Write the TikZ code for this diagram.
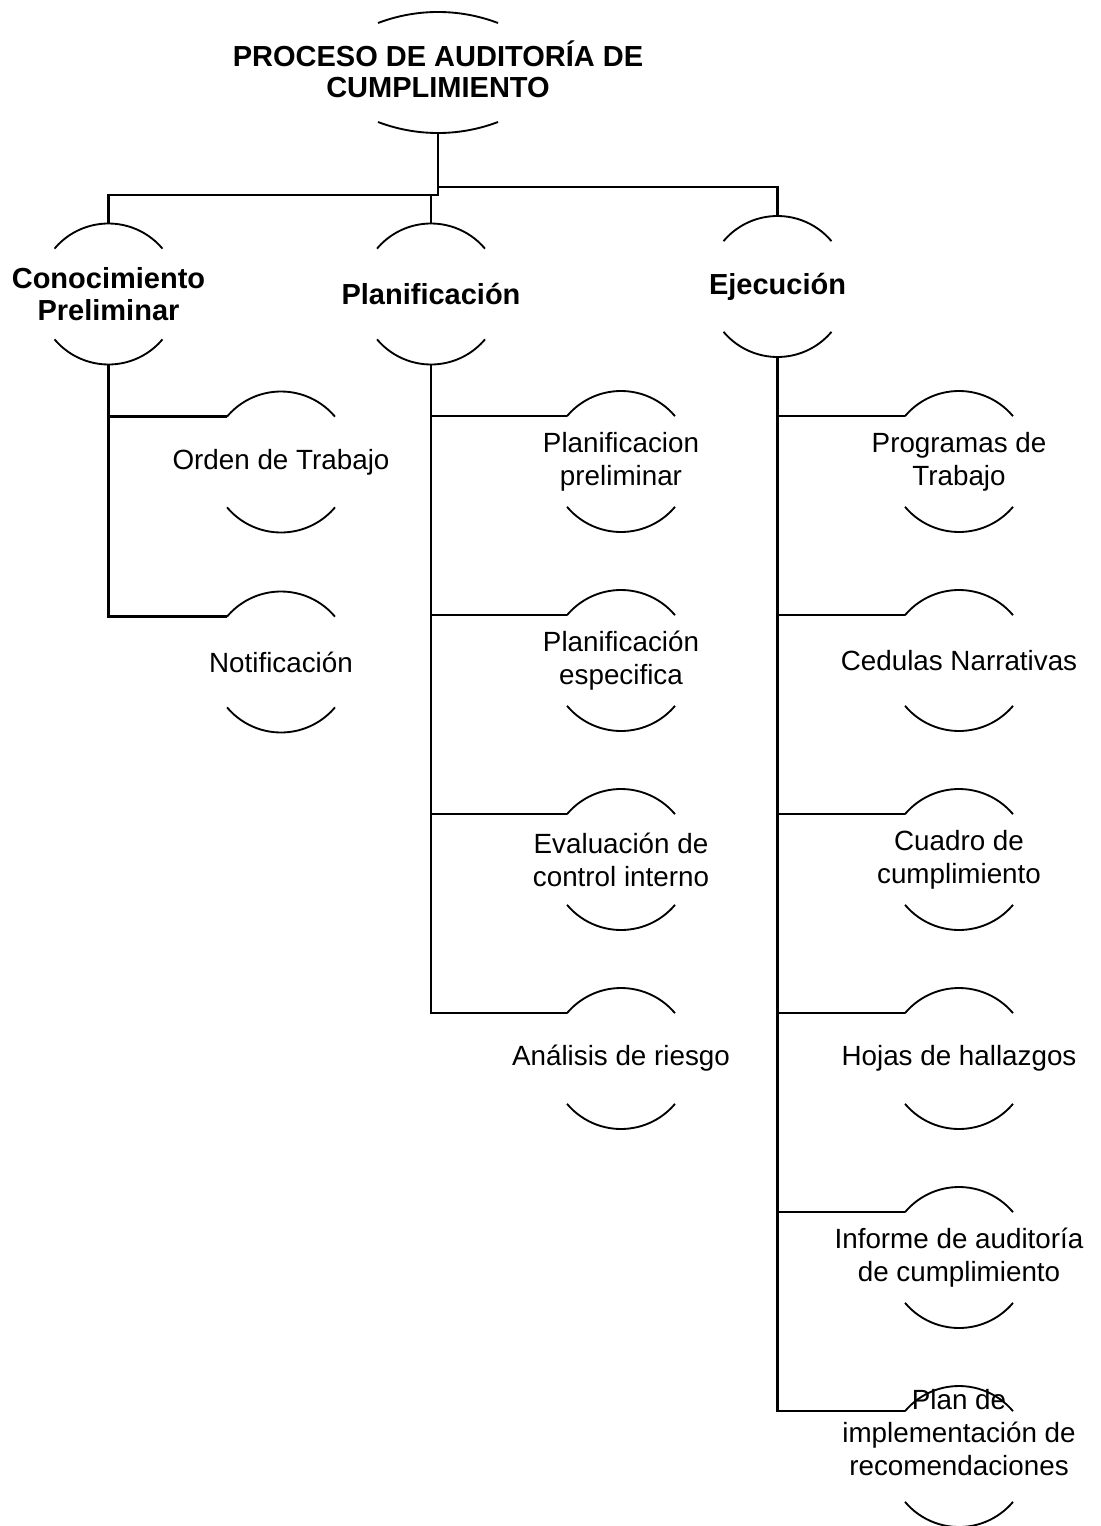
\documentclass[tikz,border=0pt]{standalone}
\usepackage{fontspec}
\setmainfont{Liberation Sans}
\begin{document}
\begin{tikzpicture}[x=0.75pt,y=0.75pt,
  frame/.style={circle, minimum size=105.75pt, inner sep=0pt, outer sep=0pt},
  topframe/.style={rectangle, minimum width=156pt, minimum height=90.75pt, inner sep=0pt, outer sep=0pt},
  txt/.style={font=\fontsize{20.85}{24.75}\selectfont, align=center},
  btxt/.style={font=\bfseries\fontsize{21.75}{23.8}\selectfont, align=center},
  conn/.style={line width=1.8pt, line join=miter},
  arcline/.style={line width=1.4pt}
]
\useasboundingbox (0,0) rectangle (1100,-1526);

% top node
\node[topframe, label={[btxt,yshift=2.5pt]center:{PROCESO DE AUDITORÍA DE\\CUMPLIMIENTO}}] (top) at (438,-72.5) {};

% level 1
\node[frame, label={[btxt]center:{Conocimiento\\Preliminar}}] (conoc) at (108.5,-294) {};
\node[frame, label={[btxt]center:{Planificación}}] (planif) at (431,-294) {};
\node[frame, label={[btxt]center:{Ejecución}}] (ejec) at (777.5,-286.5) {};

% level 2
\node[frame, label={[txt]center:{Orden de Trabajo}}] (orden) at (281,-462) {};
\node[frame, label={[txt]center:{Notificación}}] (notif) at (281,-662) {};

\node[frame, label={[txt]center:{Planificacion\\preliminar}}] (pp) at (621,-461.5) {};
\node[frame, label={[txt]center:{Planificación\\especifica}}] (pe) at (621,-660.5) {};
\node[frame, label={[txt]center:{Evaluación de\\control interno}}] (eval) at (621,-859.5) {};
\node[frame, label={[txt]center:{Análisis de riesgo}}] (anal) at (621,-1058.5) {};

\node[frame, label={[txt]center:{Programas de\\Trabajo}}] (prog) at (959,-461.5) {};
\node[frame, label={[txt]center:{Cedulas Narrativas}}] (ced) at (959,-660.5) {};
\node[frame, label={[txt]center:{Cuadro de\\cumplimiento}}] (cuad) at (959,-859.5) {};
\node[frame, label={[txt]center:{Hojas de hallazgos}}] (hojas) at (959,-1058.5) {};
\node[frame, label={[txt]center:{Informe de auditoría\\de cumplimiento}}] (inf) at (959,-1257.5) {};
\node[frame, label={[txt,yshift=18pt]center:{Plan de\\implementación de\\recomendaciones}}] (plan) at (959,-1456.5) {};

% arcs of the top node (flat circular arcs)
\draw[arcline] ([shift={(-60,-11)}]top.north) arc[start angle=110.8, end angle=69.2, radius=126.75pt];
\draw[arcline] ([shift={(-60,11)}]top.south) arc[start angle=249.2, end angle=290.8, radius=126.75pt];

% arcs of circle nodes
\foreach \n in {conoc,planif,ejec,orden,notif,pp,pe,eval,anal,prog,ced,cuad,hojas,inf,plan}{
  \draw[arcline] (\n.40) arc[start angle=40, end angle=140, radius=52.875pt];
  \draw[arcline] (\n.220) arc[start angle=220, end angle=320, radius=52.875pt];
}

% connectors level 1
\draw[conn] (top.south) -- ++(0,-62) -| (conoc.north);
\draw[conn] (top.south) -- ++(0,-62) -| (planif.north);
\draw[conn] (top.south) -- ++(0,-54) -| (ejec.north);

% connectors level 2
\foreach \c in {orden,notif}{ \draw[conn] (conoc.south) |- (\c.140); }
\foreach \c in {pp,pe,eval,anal}{ \draw[conn] (planif.south) |- (\c.140); }
\foreach \c in {prog,ced,cuad,hojas,inf,plan}{ \draw[conn] (ejec.south) |- (\c.140); }
\end{tikzpicture}
\end{document}
